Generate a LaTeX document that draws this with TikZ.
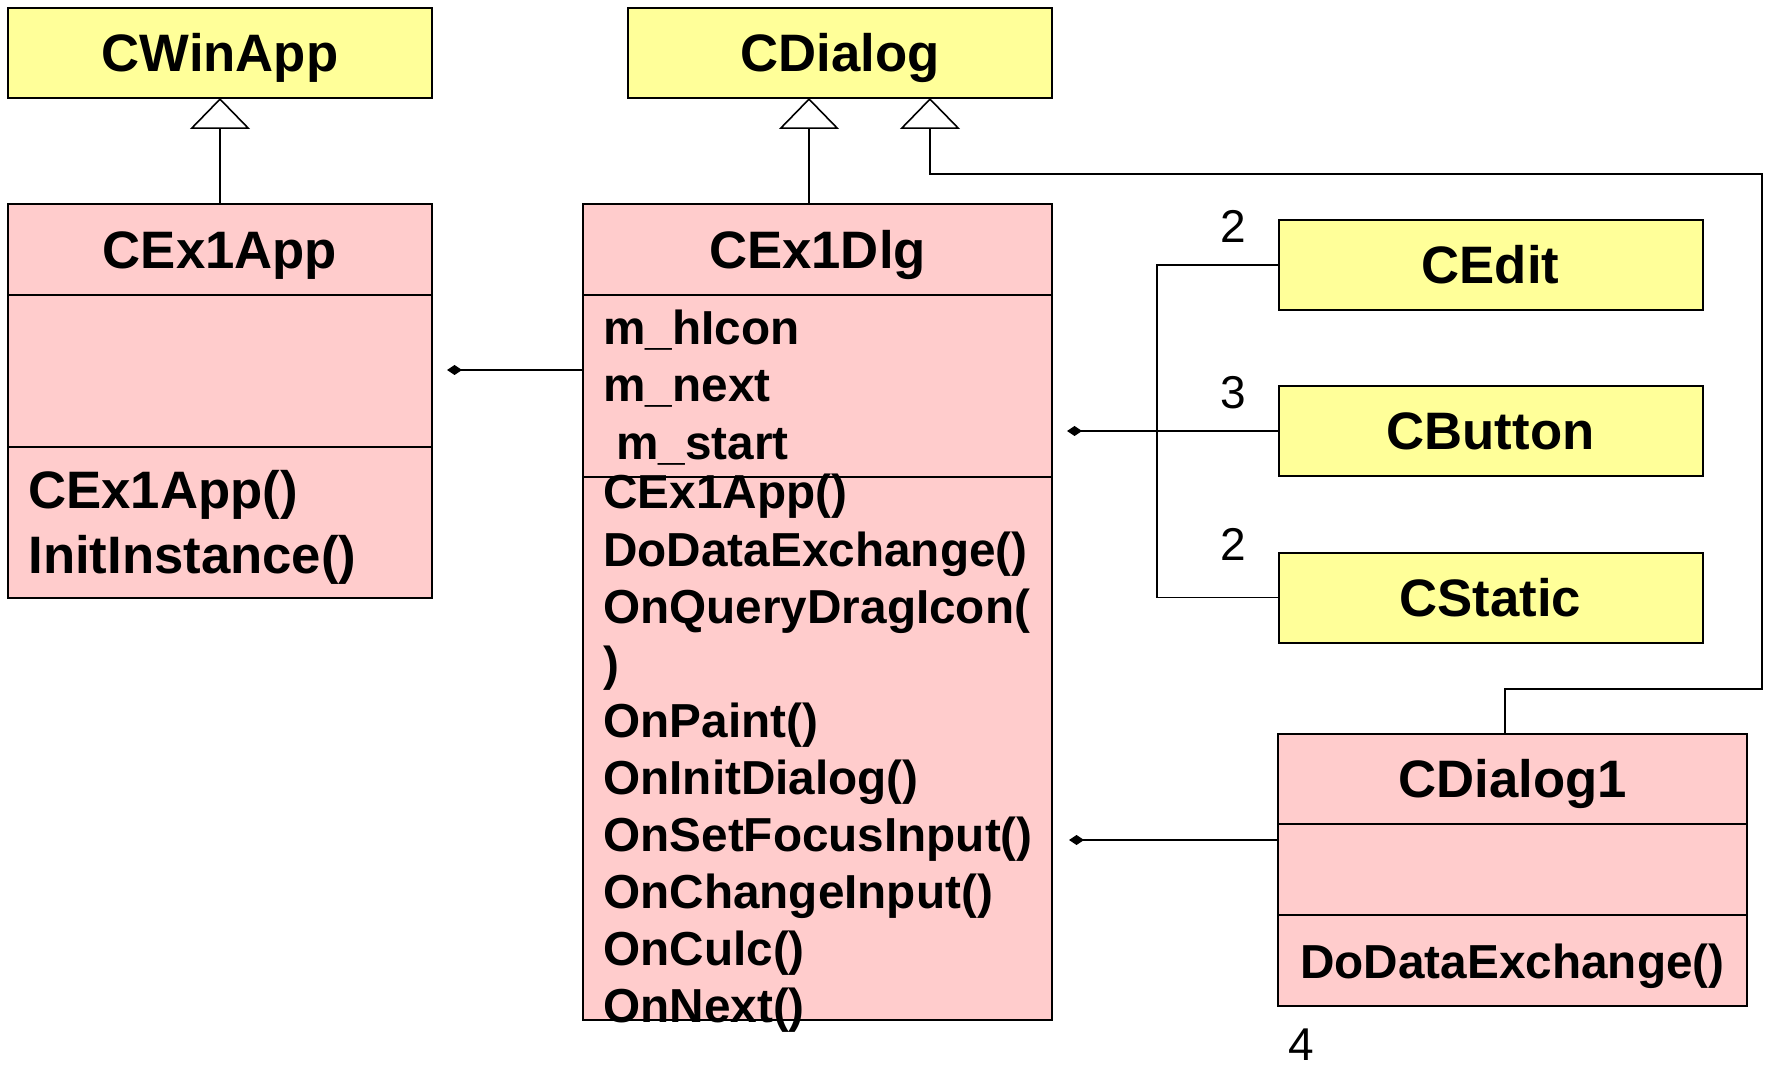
\documentclass[tikz,border=0pt]{standalone}
\usepackage{fontspec}
\setmainfont{Liberation Sans}
\usetikzlibrary{arrows.meta}
\definecolor{clsyellow}{HTML}{FFFF99}
\definecolor{clspink}{HTML}{FFCCCC}
\newcommand\clsfont{\fontsize{26.35pt}{32pt}\selectfont\bfseries}
\newcommand\mbrfont{\fontsize{23.85pt}{29pt}\selectfont\bfseries}
\tikzset{
  boxline/.style={draw, line width=1pt, outer sep=0pt, inner sep=0pt},
  libbox/.style={boxline, fill=clsyellow, minimum width=212pt, minimum height=45pt,
    font=\clsfont, text height=18.9pt, text depth=0pt},
  hdr/.style={boxline, fill=clspink, minimum height=45.5pt,
    font=\clsfont, text height=18.9pt, text depth=0pt},
  cmp/.style={boxline, fill=clspink},
  mbr/.style={anchor=base west, inner sep=0pt, font=\mbrfont},
  mult/.style={inner sep=0pt, font=\fontsize{23pt}{28pt}\selectfont},
  link/.style={line width=0.8pt},
  part/.style={link, -{Diamond[length=7.5pt,width=5pt]}},
  inherit/.style={link, -{Triangle[length=15.5pt,width=30pt,fill=white]}}
}
\begin{document}
\begin{tikzpicture}[x=0.5pt,y=-0.5pt]
  \useasboundingbox (0,0) rectangle (1767,1069);
  % library classes
  \node[libbox] (cwinapp) at (220,53) {CWinApp};
  \node[libbox] (cdialog) at (840,53) {CDialog};
  \node[libbox] (cedit) at (1490.5,265) {CEdit};
  \node[libbox] (cbutton) at (1490.5,431) {CButton};
  \node[libbox] (cstatic) at (1490.5,597.5) {CStatic};
  % CEx1App
  \node[hdr, minimum width=212pt] (cex1app) at (220,249.5) {CEx1App};
  \node[cmp, minimum width=212pt, minimum height=76pt] (cex1app-attr) at (220,371) {};
  \node[cmp, minimum width=212pt, minimum height=75.5pt] (cex1app-ops) at (220,522.5) {};
  \draw
    (28,509) node[mbr, font=\clsfont] (app-op1) {CEx1App()}
    (28,573) node[mbr, font=\clsfont] (app-op2) {InitInstance()};
  % CEx1Dlg
  \node[hdr, minimum width=234.5pt] (cex1dlg) at (817.5,249.5) {CEx1Dlg};
  \node[cmp, minimum width=234.5pt, minimum height=91pt] (cex1dlg-attr) at (817.5,386) {};
  \node[cmp, minimum width=234.5pt, minimum height=271.5pt] (cex1dlg-ops) at (817.5,748.5) {};
  \draw
    (603,345) node[mbr] (dlg-at1) {m\_hIcon}
    (603,402) node[mbr] (dlg-at2) {m\_next}
    (616,459) node[mbr] (dlg-at3) {m\_start}
    (603,509) node[mbr] (dlg-op1) {CEx1App()}
    (603,566) node[mbr] (dlg-op2) {DoDataExchange()}
    (603,623) node[mbr] (dlg-op3) {OnQueryDragIcon(}
    (603,680) node[mbr] (dlg-op4) {)}
    (603,737) node[mbr] (dlg-op5) {OnPaint()}
    (603,794) node[mbr] (dlg-op6) {OnInitDialog()}
    (603,851) node[mbr] (dlg-op7) {OnSetFocusInput()}
    (603,908) node[mbr] (dlg-op8) {OnChangeInput()}
    (603,965) node[mbr] (dlg-op9) {OnCulc()}
    (603,1022) node[mbr] (dlg-op10) {OnNext()};
  % CDialog1
  \node[hdr, minimum width=234.5pt] (cdialog1) at (1512.5,779) {CDialog1};
  \node[cmp, minimum width=234.5pt, minimum height=45.5pt] (cdialog1-attr) at (1512.5,869.5) {};
  \node[cmp, minimum width=234.5pt, minimum height=45.5pt] (cdialog1-ops) at (1512.5,960.5) {};
  \draw (1300,978) node[mbr] (dlg1-op1) {DoDataExchange()};
  % multiplicities
  \node[mult] (m-edit) at (1233,226) {2};
  \node[mult] (m-button) at (1233,393) {3};
  \node[mult] (m-static) at (1233,544) {2};
  \node[mult] (m-dlg1) at (1301,1045) {4};
  % bends and free ends
  \coordinate (g1) at (809,0);
  \coordinate (g2) at (1505,689);
  \coordinate (g3) at (1762,174);
  \coordinate (g4) at (930,174);
  \coordinate (d1) at (447,370);
  \coordinate (d2) at (1067,431);
  \coordinate (d3) at (1069,840);
  \coordinate (bus) at (1157,431);
  % generalisation
  \draw[inherit] (cex1app) -- (cwinapp);
  \draw[inherit] (g1 |- cex1dlg.north) -- (g1 |- cdialog.south);
  \draw[inherit] (g2 |- cdialog1.north) -- (g2) -| (g3) -- (g4) -- (g4 |- cdialog.south);
  % composition
  \draw[part] (d1 -| cex1dlg.west) -- (d1);
  \draw[part] (cbutton) -- (d2);
  \draw[part] (d3 -| cdialog1.west) -- (d3);
  \draw[link] (cedit.west) -| (bus) |- (cstatic.west);
\end{tikzpicture}
\end{document}
